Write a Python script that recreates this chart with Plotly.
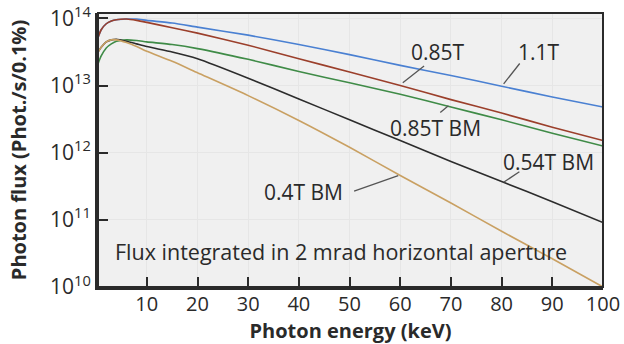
import plotly.graph_objects as go

energy_kev = [0.4, 1, 2, 3, 4, 6, 8, 10, 15, 20, 30, 40, 50, 60, 70, 80, 90, 100]

log_flux_1p1T = [13.72, 13.83, 13.92, 13.96, 13.98, 13.99, 13.99, 13.97, 13.93, 13.87, 13.75, 13.61, 13.46, 13.30, 13.15, 12.99, 12.83, 12.68]
log_flux_0p85T = [13.72, 13.83, 13.92, 13.96, 13.98, 13.99, 13.97, 13.94, 13.86, 13.78, 13.60, 13.40, 13.20, 13.00, 12.79, 12.59, 12.38, 12.18]
log_flux_0p85T_BM = [13.33, 13.44, 13.56, 13.62, 13.66, 13.68, 13.67, 13.65, 13.61, 13.55, 13.39, 13.21, 13.04, 12.87, 12.68, 12.49, 12.29, 12.10]
log_flux_0p54T_BM = [13.50, 13.57, 13.65, 13.68, 13.69, 13.66, 13.62, 13.58, 13.50, 13.40, 13.11, 12.80, 12.49, 12.18, 11.87, 11.57, 11.27, 10.96]
log_flux_0p4T_BM = [13.50, 13.57, 13.65, 13.68, 13.68, 13.64, 13.58, 13.51, 13.36, 13.19, 12.85, 12.48, 12.08, 11.66, 11.25, 10.83, 10.42, 10.00]

series_names = ["1.1T", "0.85T", "0.85T BM", "0.54T BM", "0.4T BM"]
series_colors = ["#4a80d2", "#9b3f2b", "#3f8b47", "#2c2c2c", "#c9a062"]
series_values = [log_flux_1p1T, log_flux_0p85T, log_flux_0p85T_BM, log_flux_0p54T_BM, log_flux_0p4T_BM]

x_ticks = [10, 20, 30, 40, 50, 60, 70, 80, 90, 100]
y_tick_exps = [10, 11, 12, 13, 14]

FONT = "Open Sans"
TXT = "#2a2a2a"

fig = go.Figure()
for name, col, vals in zip(series_names, series_colors, series_values):
    fig.add_trace(go.Scatter(
        x=energy_kev, y=[10 ** v for v in vals], mode="lines", name=name,
        line=dict(color=col, width=1.6, shape="spline", smoothing=0.6),
        showlegend=False, hoverinfo="skip"))

# labels: (text, x keV, log10 y)
labels = [
    ("0.85T", 67.5, 13.50),
    ("1.1T", 87.3, 13.50),
    ("0.85T BM", 67.0, 12.37),
    ("0.54T BM", 89.3, 11.86),
    ("0.4T BM", 40.9, 11.42),
]
annotations = []
for t, x, y in labels:
    annotations.append(dict(x=x, y=y, xref="x", yref="y", text=t, showarrow=False,
                            font=dict(family=FONT, size=21, color=TXT)))
annotations.append(dict(x=3.4, y=10.53, xref="x", yref="y", xanchor="left",
                        text="Flux integrated in 2 mrad horizontal aperture", showarrow=False,
                        font=dict(family=FONT, size=21.5, color=TXT)))

# leader lines: (tip x, tip log y, tail x, tail log y)
leaders = [
    (60.5, 13.04, 65.0, 13.31),
    (80.4, 13.025, 83.8, 13.35),
    (69.5, 12.70, 67.6, 12.58),
    (80.4, 11.56, 83.8, 11.73),
    (59.6, 11.66, 50.6, 11.42),
]
for x0, y0, x1, y1 in leaders:
    annotations.append(dict(x=x0, y=y0, ax=x1, ay=y1, xref="x", yref="y", axref="x", ayref="y",
                            text="", showarrow=True, arrowhead=0, arrowwidth=1.3,
                            arrowcolor="#555555", standoff=0, startstandoff=0,
                            font=dict(size=1)))

fig.update_layout(
    width=624, height=344,
    margin=dict(l=98, r=21, t=13, b=57),
    paper_bgcolor="white", plot_bgcolor="#f0f0f0",
    font=dict(family=FONT, size=21, color=TXT),
    annotations=annotations,
    shapes=[dict(type="rect", xref="paper", yref="paper", x0=0, y0=0, x1=1, y1=1,
                 line=dict(color="#2a2a2a", width=2))],
)
fig.update_xaxes(
    range=[0.37, 100], tickvals=x_ticks, ticktext=[str(v) for v in x_ticks],
    ticks="inside", ticklen=10, tickwidth=1.5, tickcolor="#2a2a2a",
    showline=True, linewidth=3, linecolor="#2a2a2a", automargin=False,
    showgrid=True, gridcolor="#e6e6e6", gridwidth=1, zeroline=False,
    tickfont=dict(family=FONT, size=20, color=TXT), ticklabelstandoff=-3,
    ticklabeloverflow="allow",
    title=dict(text="<b>Photon energy (keV)</b>", font=dict(family=FONT, size=20, color=TXT), standoff=13),
)
fig.update_yaxes(
    type="log", range=[10, 14.08],
    tickvals=[10 ** e for e in y_tick_exps],
    ticktext=["10<sup>%d</sup>" % e for e in y_tick_exps],
    ticks="inside", ticklen=10, tickwidth=1.5, tickcolor="#2a2a2a",
    showline=True, linewidth=3, linecolor="#2a2a2a", automargin=False,
    showgrid=True, gridcolor="#e6e6e6", gridwidth=1, zeroline=False,
    tickfont=dict(family=FONT, size=21, color=TXT), ticklabeloverflow="allow",
    title=dict(text="<b>Photon flux (Phot./s/0.1%)</b>", font=dict(family=FONT, size=20, color=TXT), standoff=18),
)

fig.write_html("out.html", config={"displayModeBar": False},
               post_script="document.body.style.margin='0';document.body.style.overflow='hidden';")
